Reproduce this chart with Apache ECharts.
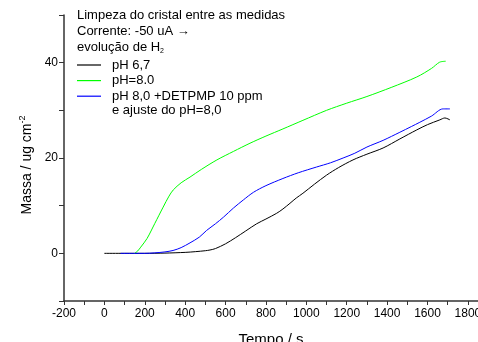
<!DOCTYPE html>
<html>
<head>
<meta charset="utf-8">
<script src="https://cdn.jsdelivr.net/npm/echarts@6/dist/echarts.min.js"></script>
<style>
html,body{margin:0;padding:0;background:#fff}
#chart{width:478px;height:342px}
</style>
</head>
<body>
<div id="chart"></div>
<script>
// tempo (s) e massa (ug cm-2)
var tempoPH67 = [0,100,200,300,400,450,500,523,550,600,650,700,754,800,853,884,919,950,983,1040,1100,1160,1231,1300,1380,1463,1547,1600,1661,1686,1711]
var massaPH67 = [0,0,0,0.05,0.2,0.35,0.55,0.7,1.0,2.0,3.3,4.7,6.2,7.2,8.4,9.3,10.5,11.6,12.6,14.5,16.4,18.0,19.6,20.8,22.1,24.0,25.9,27.0,28.0,28.4,28.0]

var tempoPH8 = [150,165,180,211,250,291,320,341,380,424,480,557,640,721,800,884,983,1100,1200,1300,1420,1547,1620,1660,1690]
var massaPH8 = [0,0.5,1.3,3.1,6.3,9.7,12.0,13.3,14.8,16.0,17.6,19.6,21.4,23.1,24.6,26.1,27.9,30.0,31.5,32.9,34.8,37.0,38.8,40.1,40.3]

var tempoDET = [80,150,200,250,300,340,380,424,470,506,550,590,639,688,738,800,884,960,1050,1120,1182,1240,1300,1380,1463,1520,1562,1620,1676,1711]
var massaDET = [0,0,0,0.1,0.3,0.6,1.2,2.2,3.4,4.8,6.2,7.6,9.5,11.2,12.8,14.2,15.7,16.9,18.1,19.0,20.0,21.0,22.3,23.7,25.4,26.6,27.5,28.8,30.3,30.3]

var nomes = ['pH 6,7', 'pH=8.0', 'pH 8,0 +DETPMP 10 ppm']
var cores = ['#000000', '#00ff00', '#0000ff']

function pares(t, m){
	var out = []
	for (var i = 0; i < t.length; i++) out.push([t[i], m[i]])
	return out
}

var chart = echarts.init(document.querySelector('#chart'))
var fonte = 'Liberation Sans, Arial, sans-serif'

option = {
    animation: false,
    grid: {left: 64, top: 15, right: 0, bottom: 41, outerBoundsMode: 'none', containLabel: false},
    legend: {
        left: 72,
        top: 53,
        orient: 'vertical',
        icon: 'rect',
        itemWidth: 24,
        itemHeight: 1.2,
        itemGap: 1.6,
        data: nomes,
        textStyle: {fontFamily: fonte, fontSize: 13, color: '#000', lineHeight: 14, padding: [0,0,0,6]}
    },
    graphic: [
        {type: 'text', left: 77, top: 9, style: {text: 'Limpeza do cristal entre as medidas', font: '13px ' + fonte, fill: '#000'}},
        {type: 'text', left: 77, top: 25, style: {text: 'Corrente: -50 uA \u2192', font: '13px ' + fonte, fill: '#000'}},
        {type: 'text', left: 77, top: 41, style: {
            text: 'evolução de H{sub|2}', font: '13px ' + fonte, fill: '#000',
            rich: {sub: {fontSize: 7, verticalAlign: 'bottom', padding: [7,0,0,0]}}
        }},
        {type: 'text', left: 112, top: 104, style: {text: 'e ajuste do pH=8,0', font: '13px ' + fonte, fill: '#000'}}
    ],
    xAxis: {
        type: 'value',
        min: -200,
        max: 1850,
        interval: 100,
        name: 'Tempo / s',
        nameLocation: 'middle',
        nameGap: 31,
        nameTextStyle: {fontFamily: fonte, fontSize: 15, color: '#000'},
        splitLine: {show: false},
        axisLine: {onZero: false, lineStyle: {color: '#333', width: 1.5}},
        axisTick: {inside: false, length: 4, lineStyle: {color: '#333'}},
        axisLabel: {
            fontFamily: fonte, fontSize: 12, color: '#000', margin: 7,
            formatter: function(v){ return (v % 200 === 0 && v <= 1800) ? v : '' }
        }
    },
    yAxis: {
        type: 'value',
        min: -10,
        max: 50,
        interval: 10,
        name: 'Massa / ug cm{sup|-2}',
        nameLocation: 'middle',
        nameGap: 27,
        nameTextStyle: {fontFamily: fonte, fontSize: 14, color: '#000', padding: [0,14,0,0],
            rich: {sup: {fontSize: 9, verticalAlign: 'top', padding: [0,0,8,0]}}},
        splitLine: {show: false},
        axisLine: {onZero: false, lineStyle: {color: '#333', width: 1.5}},
        axisTick: {inside: false, length: 5, lineStyle: {color: '#333'}},
        axisLabel: {
            fontFamily: fonte, fontSize: 12, color: '#000', margin: 6,
            formatter: function(v){ return (v % 20 === 0) ? v : '' }
        }
    },
    series: [
        {name: nomes[0], type: 'line', data: pares(tempoPH67, massaPH67), showSymbol: false, smooth: 0.3, color: cores[0], lineStyle: {width: 1}},
        {name: nomes[1], type: 'line', data: pares(tempoPH8, massaPH8), showSymbol: false, smooth: 0.3, color: cores[1], lineStyle: {width: 1}},
        {name: nomes[2], type: 'line', data: pares(tempoDET, massaDET), showSymbol: false, smooth: 0.3, color: cores[2], lineStyle: {width: 1}}
    ]
};

chart.setOption(option)
</script>
</body>
</html>
